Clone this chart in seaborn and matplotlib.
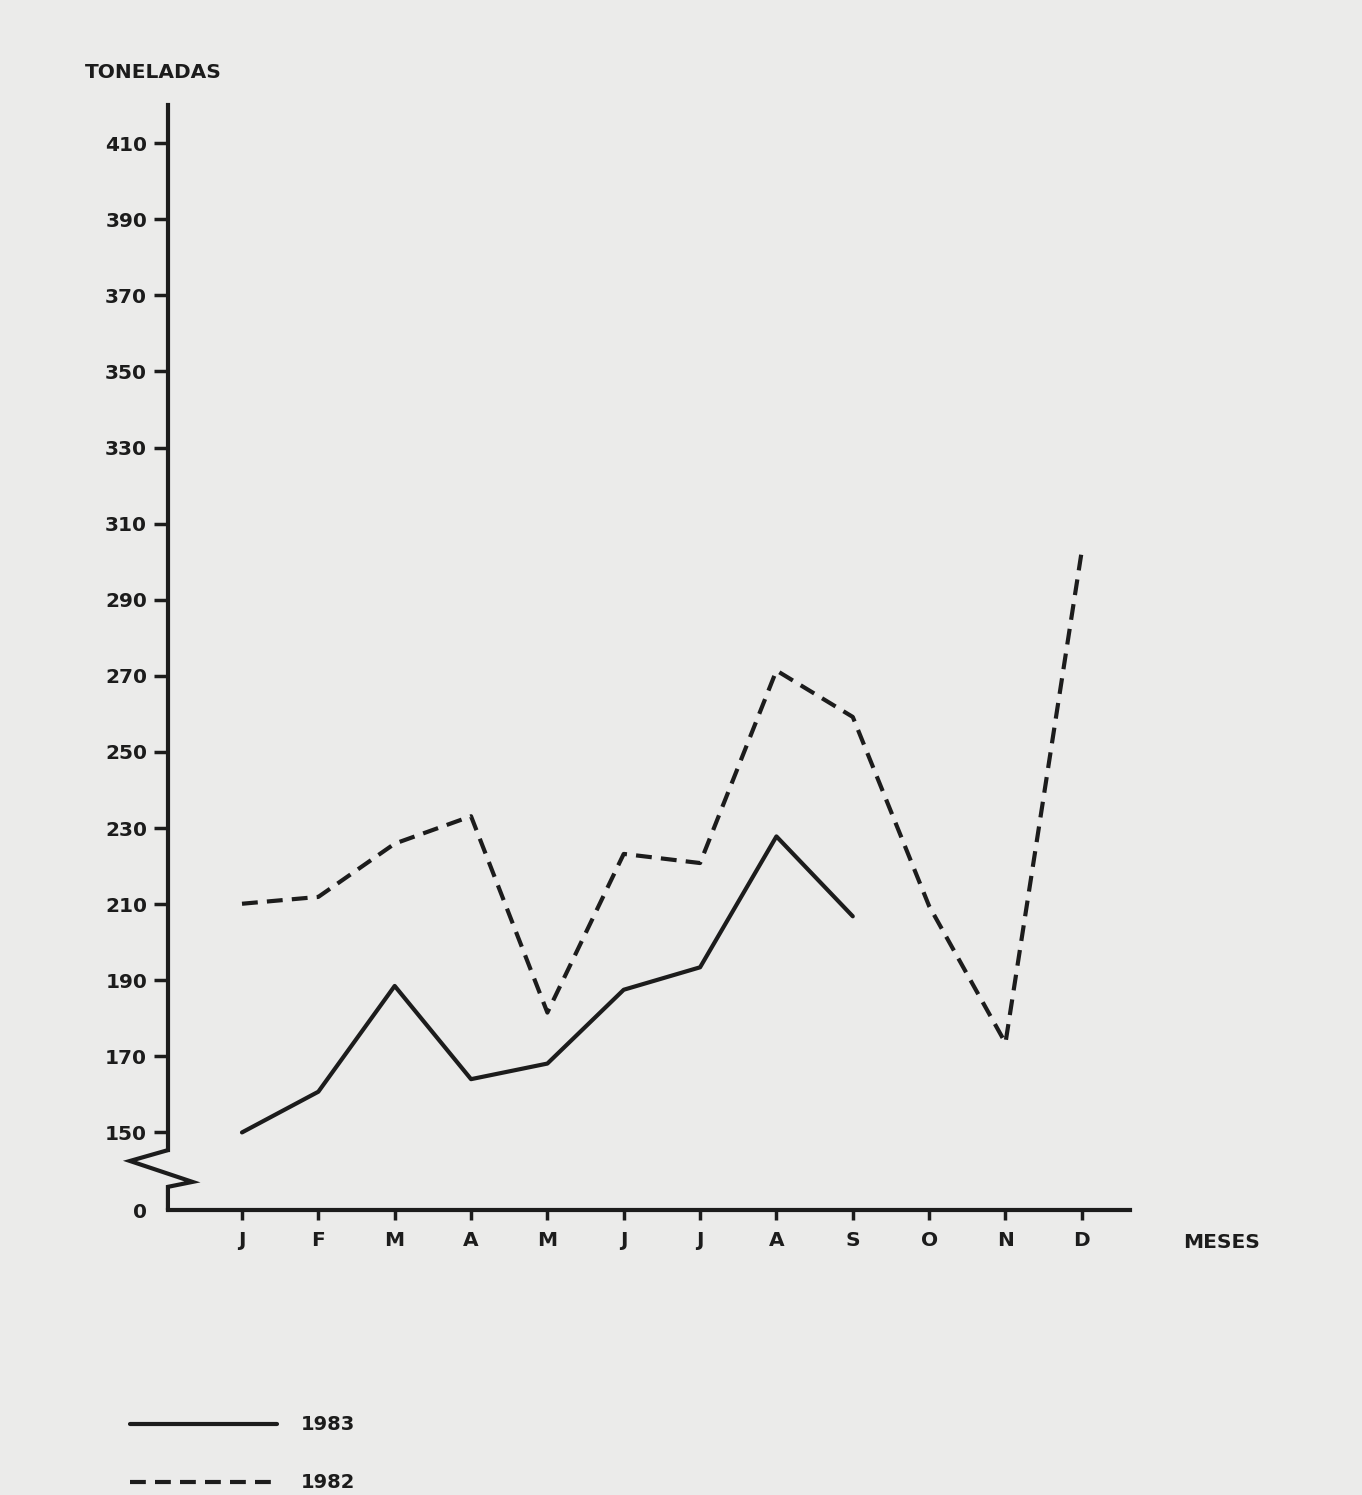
import pandas as pd
import matplotlib.pyplot as plt
import seaborn as sns

# monthly tonnage
months = ['J', 'F', 'M', 'A', 'M', 'J', 'J', 'A', 'S', 'O', 'N', 'D']
t_1983 = [150.0, 160.7, 188.5, 164.0, 168.1, 187.5, 193.4, 227.8, 206.8]
t_1982 = [210.1, 211.9, 225.9, 233.1, 181.5, 223.2, 220.8, 271.4, 259.2, 209.5, 173.5, 302.9]
y_ticks = [150, 170, 190, 210, 230, 250, 270, 290, 310, 330, 350, 370, 390, 410]

# build a long table for seaborn
df = pd.DataFrame({
    'mes': list(range(len(t_1983))) + list(range(len(t_1982))),
    'toneladas': t_1983 + t_1982,
    'ano': ['1983'] * len(t_1983) + ['1982'] * len(t_1982),
})

sns.set_style('white')
plt.rcParams['font.family'] = ['DejaVu Sans']
plt.rcParams['font.weight'] = 'bold'

bg = '#ebebea'
ink = '#1c1c1c'

fig = plt.figure(figsize=(13.62, 14.95), dpi=100, facecolor=bg)
ax = fig.add_axes([0.1233, 0.1906, 0.7063, 0.7391])
ax.set_facecolor(bg)

sns.lineplot(data=df[df['ano'] == '1983'], x='mes', y='toneladas', ax=ax,
             color=ink, linewidth=3, label='1983', clip_on=False)
sns.lineplot(data=df[df['ano'] == '1982'], x='mes', y='toneladas', ax=ax,
             color=ink, linewidth=3, label='1982', clip_on=False)
ax.lines[1].set_dashes((3.8, 2.2))

y_bottom = 129.6
ax.set_xlim(-0.97, 11.63)
ax.set_ylim(y_bottom, 420)

# axes styling
for s in ['top', 'right']:
    ax.spines[s].set_visible(False)
ax.spines['left'].set_linewidth(3)
ax.spines['bottom'].set_linewidth(3)
ax.spines['left'].set_color(ink)
ax.spines['bottom'].set_color(ink)
ax.spines['left'].set_bounds(145.35, 420)

# break in the y axis
brk = ax.get_yaxis_transform()
ax.plot([0, -0.0395, 0.0255, 0, 0], [145.35, 142.5, 137.0, 135.7, y_bottom],
        color=ink, lw=3, transform=brk, clip_on=False, solid_joinstyle='miter')

ax.set_yticks([y_bottom] + y_ticks)
ax.set_yticklabels(['0'] + [str(v) for v in y_ticks])
ax.set_xticks(range(len(months)))
ax.set_xticklabels(months)
ax.tick_params(axis='y', left=True, direction='out', length=10, width=2.5, color=ink,
               labelsize=14.5, pad=5, labelcolor=ink)
ax.tick_params(axis='x', bottom=True, direction='out', length=7, width=2.5, color=ink,
               labelsize=14.5, pad=8, labelcolor=ink)
ax.yaxis.get_major_ticks()[0].tick1line.set_visible(False)
ax.set_xlabel('')
ax.set_ylabel('')

fig.text(85 / 1362, 1 - 72 / 1495, 'TONELADAS', fontsize=14.5, fontweight='bold',
         color=ink, va='center', ha='left')
fig.text(1183 / 1362, 1 - 1243 / 1495, 'MESES', fontsize=14.5, fontweight='bold',
         color=ink, va='center', ha='left')

leg = ax.legend(loc='upper left', bbox_to_anchor=(112 / 1362, 1 - 1398 / 1495),
                bbox_transform=fig.transFigure, frameon=False, handlelength=7.6,
                handletextpad=1.2, labelspacing=2.0, fontsize=14)
for t in leg.get_texts():
    t.set_color(ink)
    t.set_fontweight('bold')

plt.savefig('out.png', dpi=100, facecolor=bg)
